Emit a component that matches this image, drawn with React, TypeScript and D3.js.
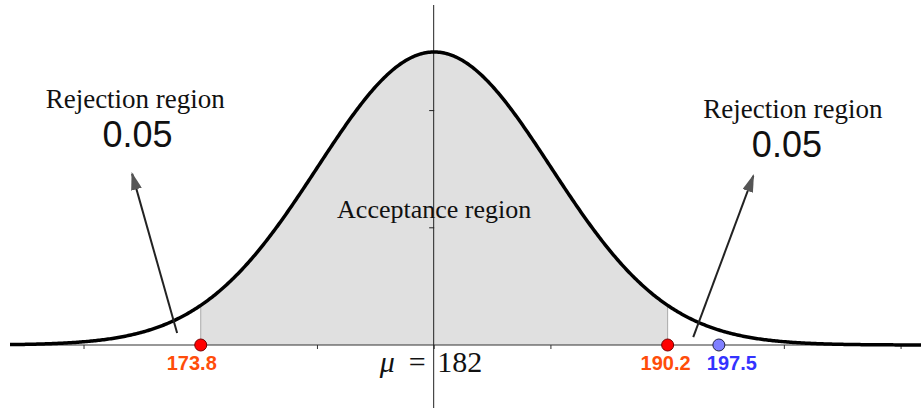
import React from 'react';
import * as d3 from 'd3';

// ---- data ----
const MU = 182;
const SIGMA = 4.1;
const X_DOMAIN = [167.1, 199.1];
const X_TICKS = [169.7, 173.8, 177.9, 182, 186.1, 190.2, 194.3, 198.4];
const Y_TICKS = [0.4, 0.8];
const CRITICAL = [173.8, 190.2];
const POINT_POS = [173.8, 190.2, 192.0];
const POINT_LABELS = ['173.8', '190.2', '197.5'];
const POINT_KIND = ['critical', 'critical', 'observed'];
const TAIL_TITLES = ['Rejection region', 'Rejection region'];
const TAIL_ALPHAS = ['0.05', '0.05'];
// annotation anchors in data space: [x, relative density]
const TAIL_TITLE_POS = [[171.5, 0.809], [194.6, 0.775]];
const TAIL_ALPHA_POS = [[171.58, 0.676], [194.39, 0.642]];
const ARROW_FROM = [[172.97, 0.041], [191.1, 0.027]];
const ARROW_TO = [[171.39, 0.584], [193.21, 0.577]];
const ACCEPT_LABEL = 'Acceptance region';
const ACCEPT_POS = [182.0, 0.433];

const W = 921;
const H = 408;

export default function App() {
  const x = d3.scaleLinear().domain(X_DOMAIN).range([10, 921]);
  const y = d3.scaleLinear().domain([0, 1]).range([345, 52]);
  const dens = (v: number) => Math.exp(-0.5 * ((v - MU) / SIGMA) ** 2);

  const xs = d3.range(X_DOMAIN[0], X_DOMAIN[1] + 0.001, 0.05);
  const line = d3.line<number>().x((v) => x(v)).y((v) => y(dens(v)));
  const area = d3
    .area<number>()
    .x((v) => x(v))
    .y0(y(0))
    .y1((v) => y(dens(v)));
  const shadeXs = d3.range(CRITICAL[0], CRITICAL[1], 0.05).concat([CRITICAL[1]]);

  const y0 = y(0);
  const x0 = x(MU);
  const serif = "'Liberation Serif', 'Times New Roman', serif";
  const sans = "'Liberation Sans', Arial, sans-serif";

  const labelDx = [-9, -2, 13];

  return (
    <svg
      width={W}
      height={H}
      viewBox={`0 0 ${W} ${H}`}
      style={{ position: 'absolute', left: 0, top: 0, background: '#fff' }}
    >
      <defs>
        <marker
          id="ah"
          viewBox="0 0 18 11"
          refX="16"
          refY="5.5"
          markerWidth="18"
          markerHeight="11"
          markerUnits="userSpaceOnUse"
          orient="auto"
        >
          <path d="M0,0 L18,5.5 L0,11 z" fill="#555" />
        </marker>
      </defs>

      {/* shaded acceptance region */}
      <path d={area(shadeXs) || ''} fill="#e0e0e0" />
      {CRITICAL.map((c, i) => (
        <line
          key={'e' + i}
          x1={x(c)}
          x2={x(c)}
          y1={y0}
          y2={y(dens(c))}
          stroke="#aaa"
          strokeWidth={1}
        />
      ))}

      {/* horizontal axis */}
      <line x1={10} x2={921} y1={y0} y2={y0} stroke="#333" strokeWidth={1.2} />
      {X_TICKS.map((t, i) => (
        <line key={'xt' + i} x1={x(t)} x2={x(t)} y1={y0} y2={y0 + 4} stroke="#333" strokeWidth={1} />
      ))}

      {/* vertical axis */}
      <line x1={x0 - 0.5} x2={x0 - 0.5} y1={5} y2={H} stroke="#222" strokeWidth={1} />
      {Y_TICKS.map((t, i) => (
        <line key={'yt' + i} x1={x0 - 5} x2={x0} y1={y(t)} y2={y(t)} stroke="#222" strokeWidth={1} />
      ))}

      {/* normal curve */}
      <path d={line(xs) || ''} fill="none" stroke="#000" strokeWidth={3.5} strokeLinejoin="round" />

      {/* arrows */}
      {ARROW_FROM.map((a, i) => (
        <line
          key={'ar' + i}
          x1={x(a[0])}
          y1={y(a[1])}
          x2={x(ARROW_TO[i][0])}
          y2={y(ARROW_TO[i][1])}
          stroke="#222"
          strokeWidth={2}
          markerEnd="url(#ah)"
        />
      ))}

      {/* tail annotations */}
      {TAIL_TITLES.map((t, i) => (
        <text
          key={'tt' + i}
          x={x(TAIL_TITLE_POS[i][0])}
          y={y(TAIL_TITLE_POS[i][1])}
          textAnchor="middle"
          fontFamily={serif}
          fontSize={27}
          fill="#111"
        >
          {t}
        </text>
      ))}
      {TAIL_ALPHAS.map((t, i) => (
        <text
          key={'ta' + i}
          x={x(TAIL_ALPHA_POS[i][0])}
          y={y(TAIL_ALPHA_POS[i][1])}
          textAnchor="middle"
          fontFamily={sans}
          fontSize={36}
          fill="#111"
        >
          {t}
        </text>
      ))}

      <text
        x={x(ACCEPT_POS[0])}
        y={y(ACCEPT_POS[1])}
        textAnchor="middle"
        fontFamily={serif}
        fontSize={26}
        fill="#111"
      >
        {ACCEPT_LABEL}
      </text>

      {/* mu label */}
      <text x={x0 - 47} y={372} textAnchor="middle" fontFamily={serif} fontStyle="italic" fontSize={30} fill="#111">
        μ
      </text>
      <text x={x0 - 17} y={372} textAnchor="middle" fontFamily={serif} fontSize={30} fill="#111">
        =
      </text>
      <text x={x0 + 3} y={372} textAnchor="start" fontFamily={serif} fontSize={30} fill="#111">
        {String(MU)}
      </text>

      {/* points */}
      {POINT_POS.map((p, i) => (
        <g key={'p' + i}>
          <circle
            cx={x(p)}
            cy={y0}
            r={6}
            fill={POINT_KIND[i] === 'critical' ? '#ff0000' : '#8080ff'}
            stroke={POINT_KIND[i] === 'critical' ? '#700' : '#224'}
            strokeWidth={1}
          />
          <text
            x={x(p) + labelDx[i]}
            y={370}
            textAnchor="middle"
            fontFamily={sans}
            fontWeight="bold"
            fontSize={20}
            fill={POINT_KIND[i] === 'critical' ? '#ff4d0a' : '#3333ff'}
          >
            {POINT_LABELS[i]}
          </text>
        </g>
      ))}
    </svg>
  );
}
